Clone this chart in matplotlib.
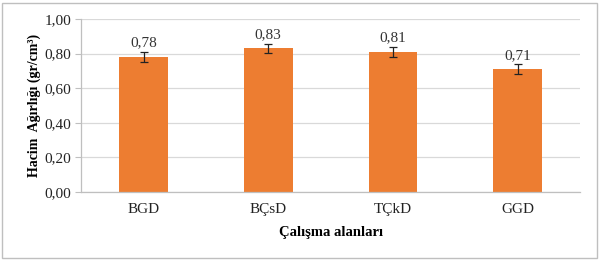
"""Bulk density per study area, bar chart with error bars."""

import matplotlib.pyplot as plt
from matplotlib.patches import Rectangle
from matplotlib.ticker import FuncFormatter

areas = ["BGD", "BÇsD", "TÇkD", "GGD"]
bulk_density = [0.78, 0.83, 0.81, 0.71]
errors = [0.028, 0.027, 0.027, 0.028]
y_ticks = [0.0, 0.2, 0.4, 0.6, 0.8, 1.0]

plt.rcParams["font.family"] = ["Liberation Serif", "DejaVu Serif"]

fig = plt.figure(figsize=(6.06, 2.61), dpi=100)
ax = fig.add_axes([0.134, 0.264, 0.823, 0.663])

x = range(len(areas))
ax.bar(x, bulk_density, width=0.39, color="#ED7D31", zorder=2)
ax.errorbar(x, bulk_density, yerr=errors, fmt="none", ecolor="#222222",
            elinewidth=0.9, capsize=3, capthick=0.9, zorder=3)

for xi, v, e in zip(x, bulk_density, errors):
    ax.text(xi, v + e + 0.015, f"{v:.2f}".replace(".", ","),
            ha="center", va="bottom", fontsize=11, color="#333333")

ax.set_xlim(-0.5, len(areas) - 0.5)
ax.set_ylim(0, 1.0)
ax.set_yticks(y_ticks)
ax.yaxis.set_major_formatter(FuncFormatter(lambda v, _: f"{v:.2f}".replace(".", ",")))
ax.set_xticks(list(x))
ax.set_xticklabels(areas)
ax.tick_params(axis="x", length=0, pad=8, labelsize=11, colors="#222222")
ax.tick_params(axis="y", length=4, width=0.8, color="#BFBFBF", pad=3,
               labelsize=11, labelcolor="#222222")
ax.grid(axis="y", color="#D9D9D9", linewidth=0.9, zorder=0)

for side in ["top", "right"]:
    ax.spines[side].set_visible(False)
for side in ["left", "bottom"]:
    ax.spines[side].set_color("#BFBFBF")
    ax.spines[side].set_linewidth(0.9)

ax.set_ylabel("Hacim  Ağırlığı (gr/cm³)", fontsize=10, fontweight="bold",
              labelpad=3)
ax.set_xlabel("Çalışma alanları", fontsize=10.5, fontweight="bold", labelpad=7)

fig.patches.append(Rectangle((0.004, 0.012), 0.981, 0.975, transform=fig.transFigure,
                             fill=False, edgecolor="#BFBFBF", linewidth=1))

fig.savefig("out.png", dpi=100)
